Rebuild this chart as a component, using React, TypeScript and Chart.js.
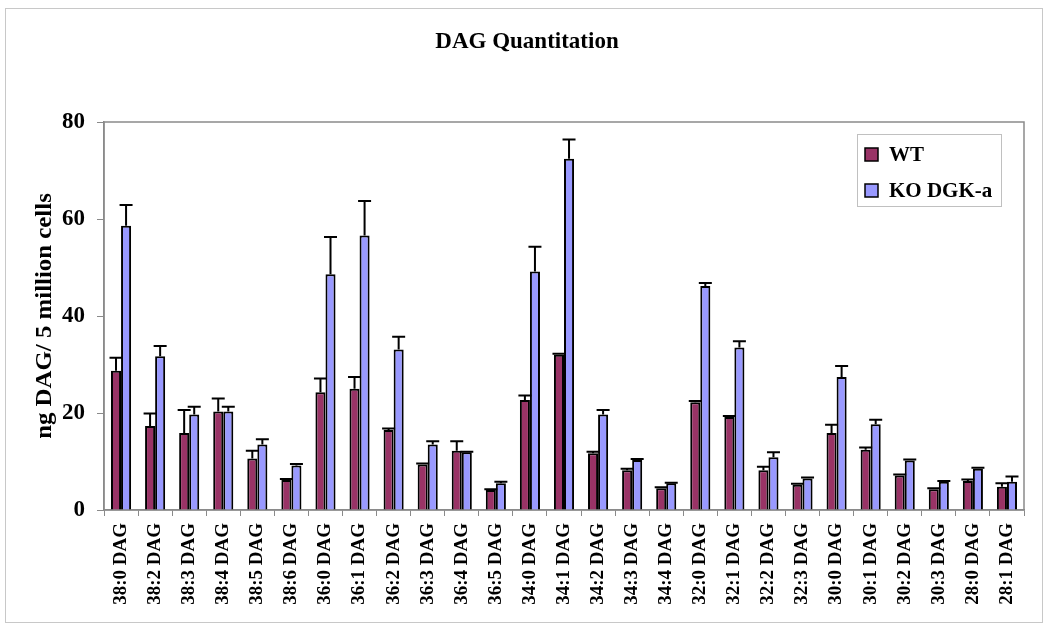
import React, { useEffect, useRef } from "react";
import { Chart, registerables } from "chart.js";

Chart.register(...registerables);

const categories = [
  "38:0 DAG", "38:2 DAG", "38:3 DAG", "38:4 DAG", "38:5 DAG", "38:6 DAG",
  "36:0 DAG", "36:1 DAG", "36:2 DAG", "36:3 DAG", "36:4 DAG", "36:5 DAG",
  "34:0 DAG", "34:1 DAG", "34:2 DAG", "34:3 DAG", "34:4 DAG",
  "32:0 DAG", "32:1 DAG", "32:2 DAG", "32:3 DAG",
  "30:0 DAG", "30:1 DAG", "30:2 DAG", "30:3 DAG",
  "28:0 DAG", "28:1 DAG",
];

const wtValues = [
  28.7, 17.3, 15.9, 20.3, 10.6, 6.2,
  24.3, 25.0, 16.5, 9.4, 12.2, 4.1,
  22.7, 32.0, 11.7, 8.2, 4.5,
  22.2, 19.2, 8.2, 5.2,
  15.9, 12.4, 7.1, 4.3,
  6.0, 4.8,
];
const wtErrors = [
  2.7, 2.6, 4.7, 2.7, 1.6, 0.2,
  2.8, 2.4, 0.3, 0.2, 2.0, 0.2,
  0.9, 0.2, 0.3, 0.3, 0.2,
  0.3, 0.2, 0.7, 0.2,
  1.7, 0.5, 0.2, 0.2,
  0.3, 0.7,
];
const koValues = [
  58.6, 31.7, 19.7, 20.3, 13.5, 9.2,
  48.6, 56.6, 33.1, 13.5, 11.9, 5.5,
  49.2, 72.4, 19.7, 10.3, 5.5,
  46.2, 33.5, 10.9, 6.5,
  27.4, 17.7, 10.2, 5.8,
  8.5, 5.8,
];
const koErrors = [
  4.3, 2.1, 1.6, 1.0, 1.1, 0.3,
  7.7, 7.1, 2.6, 0.7, 0.1, 0.3,
  5.1, 4.0, 0.9, 0.2, 0.1,
  0.6, 1.3, 1.0, 0.2,
  2.3, 0.9, 0.2, 0.2,
  0.2, 1.1,
];

const yTicks = [0, 20, 40, 60, 80];
const seriesLabels = ["WT", "KO DGK-a"];
const seriesColors = ["#993366", "#9999FF"];
const titleText = "DAG Quantitation";
const yTitleText = "ng DAG/ 5 million cells";

const SERIF = '"Liberation Serif", "Times New Roman", serif';

const decorPlugin = {
  id: "decor",
  beforeDraw(chart: any) {
    const ctx = chart.ctx;
    ctx.save();
    ctx.fillStyle = "#ffffff";
    ctx.fillRect(0, 0, chart.width, chart.height);
    ctx.strokeStyle = "#c8c8c8";
    ctx.lineWidth = 1;
    ctx.strokeRect(5.5, 8.5, 1037, 614);
    ctx.restore();
  },
  beforeDatasetsDraw(chart: any) {
    const { ctx, chartArea } = chart;
    ctx.save();
    ctx.strokeStyle = "#8a8a8a";
    ctx.lineWidth = 1.5;
    ctx.strokeRect(chartArea.left, chartArea.top, chartArea.right - chartArea.left, chartArea.bottom - chartArea.top);
    ctx.restore();
  },
  afterDatasetsDraw(chart: any) {
    const ctx = chart.ctx;
    const yScale = chart.scales.y;
    const errs = [wtErrors, koErrors];
    ctx.save();
    ctx.strokeStyle = "#000";
    ctx.lineWidth = 2;
    chart.data.datasets.forEach((ds: any, di: number) => {
      const meta = chart.getDatasetMeta(di);
      meta.data.forEach((el: any, i: number) => {
        const v = ds.data[i];
        const e = errs[di][i];
        const yTop = yScale.getPixelForValue(v + e);
        const x = el.x;
        ctx.beginPath();
        ctx.moveTo(x, el.y);
        ctx.lineTo(x, yTop);
        ctx.moveTo(x - 6.5, yTop);
        ctx.lineTo(x + 6.5, yTop);
        ctx.stroke();
      });
    });
    ctx.restore();
  },
  afterDraw(chart: any) {
    const ctx = chart.ctx;
    const xScale = chart.scales.x;
    const { chartArea } = chart;
    ctx.save();
    ctx.fillStyle = "#000";
    // title
    ctx.font = `bold 23px ${SERIF}`;
    ctx.textAlign = "center";
    ctx.textBaseline = "alphabetic";
    ctx.fillText(titleText, 527, 48);

    // y-axis title
    ctx.save();
    ctx.translate(51, (chartArea.top + chartArea.bottom) / 2);
    ctx.rotate(-Math.PI / 2);
    ctx.scale(1.08, 1);
    ctx.font = `bold 23px ${SERIF}`;
    ctx.textAlign = "center";
    ctx.textBaseline = "alphabetic";
    ctx.fillText(yTitleText, 0, 0);
    ctx.restore();

    // x labels
    ctx.font = `bold 19px ${SERIF}`;
    categories.forEach((lab, i) => {
      const x = xScale.getPixelForTick(i);
      ctx.save();
      ctx.translate(x, chartArea.bottom + 13);
      ctx.rotate(-Math.PI / 2);
      ctx.textAlign = "right";
      ctx.textBaseline = "middle";
      ctx.fillText(lab, 0, 0);
      ctx.restore();
    });

    // legend
    const bx = 857, by = 134, bw = 144, bh = 72;
    ctx.fillStyle = "#fff";
    ctx.fillRect(bx, by, bw, bh);
    ctx.strokeStyle = "#c0c0c0";
    ctx.lineWidth = 1;
    ctx.strokeRect(bx + 0.5, by + 0.5, bw, bh);
    const rows = [161, 197];
    chart.data.datasets.forEach((ds: any, di: number) => {
      const base = rows[di];
      ctx.fillStyle = ds.backgroundColor;
      ctx.fillRect(865, base - 13, 13, 13);
      ctx.strokeStyle = "#000";
      ctx.lineWidth = 1.5;
      ctx.strokeRect(865, base - 13, 13, 13);
      ctx.fillStyle = "#000";
      ctx.font = `bold 21px ${SERIF}`;
      ctx.textAlign = "left";
      ctx.textBaseline = "alphabetic";
      ctx.fillText(ds.label, 889, base);
    });
    ctx.restore();
  },
};

export default function App() {
  const ref = useRef<HTMLCanvasElement | null>(null);
  useEffect(() => {
    if (!ref.current) return;
    const chart = new Chart(ref.current, {
      type: "bar",
      data: {
        labels: categories,
        datasets: [
          {
            label: seriesLabels[0],
            data: wtValues,
            backgroundColor: seriesColors[0],
            borderColor: "#000",
            borderWidth: 2,
            categoryPercentage: 0.59,
            barPercentage: 1,
          },
          {
            label: seriesLabels[1],
            data: koValues,
            backgroundColor: seriesColors[1],
            borderColor: "#000",
            borderWidth: 2,
            categoryPercentage: 0.59,
            barPercentage: 1,
          },
        ],
      },
      options: {
        responsive: false,
        animation: false,
        devicePixelRatio: 1,
        layout: { padding: { left: 0, right: 26, top: 122, bottom: 0 } },
        plugins: {
          legend: { display: false },
          title: { display: false },
          tooltip: { enabled: false },
        },
        scales: {
          x: {
            offset: true,
            grid: {
              drawOnChartArea: false,
              offset: true,
              tickLength: 6,
              color: "#8a8a8a",
            },
            border: { color: "#8a8a8a", width: 1.5 },
            ticks: { display: false },
            afterFit: (scale: any) => {
              scale.height = 118;
            },
          },
          y: {
            min: 0,
            max: 80,
            afterBuildTicks: (scale: any) => {
              scale.ticks = yTicks.map((v) => ({ value: v }));
            },
            grid: {
              drawOnChartArea: false,
              tickLength: 7,
              color: "#8a8a8a",
            },
            border: { color: "#8a8a8a", width: 1.5 },
            ticks: {
              padding: 12,
              color: "#000",
              font: { family: SERIF, size: 23, weight: "bold" },
            },
            afterFit: (scale: any) => {
              scale.width = 104;
            },
          },
        },
      },
      plugins: [decorPlugin],
    });
    return () => chart.destroy();
  }, []);
  return (
    <div style={{ position: "fixed", left: 0, top: 0, width: 1050, height: 628, background: "#fff" }}>
      <canvas ref={ref} width={1050} height={628} style={{ width: 1050, height: 628, display: "block" }} />
    </div>
  );
}
